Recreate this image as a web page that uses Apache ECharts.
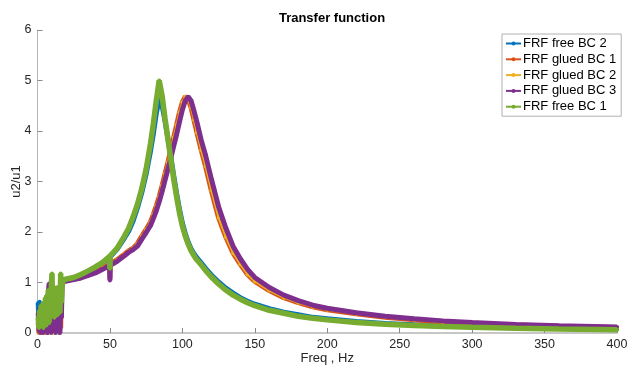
<!DOCTYPE html>
<html>
<head>
<meta charset="utf-8">
<script src="https://cdn.jsdelivr.net/npm/echarts@6/dist/echarts.min.js"></script>
<style>
  html, body { margin: 0; padding: 0; background: #fff; }
  #chart { width: 634px; height: 369px; }
</style>
</head>
<body>
<div id="chart"></div>
<script>
// low frequency part (noisy region), Hz
const lowFreq = [0.5, 1, 1.5, 2, 2.5, 3, 3.5, 4, 4.5, 5, 5.5, 6, 6.5, 7, 7.5, 8, 8.5,
  9, 9.5, 10, 10.5, 11, 11.5, 12, 12.5, 13, 13.5, 14, 14.5, 15, 15.5, 16, 16.5, 17]
// smooth part, Hz
const freq = [18, 20, 25, 30, 35, 40, 45, 49.8, 50, 50.2,
  55, 60, 63, 66, 69, 72, 75, 78, 80, 82,
  84, 86, 88, 90, 92, 94, 96, 98, 100, 102,
  104, 106, 108, 110, 113, 116, 120, 125, 130, 135,
  140, 145, 150, 160, 170, 180, 190, 200, 220, 240,
  260, 280, 300, 330, 360, 400]

const seriesNames = ['FRF free BC 2', 'FRF glued BC 1', 'FRF glued BC 2', 'FRF glued BC 3', 'FRF free BC 1']

// noisy values below 17 Hz
const freeBC2Low = [0.6, 0.1, 0.62, 0.05, 0.4, 0.0, 0.5, 0.1, 0.55, 0.02, 0.6, 0.15, 0.5, 0.05, 0.7, 0.2, 0.9,
  0.1, 0.6, 0.3, 0.75, 0.05, 0.7, 0.2, 0.8, 0.1, 0.85, 0.3, 0.7, 0.0, 0.8, 0.4, 0.9, 0.95]
const gluedBC1Low = [0.2, 0.0, 0.35, 0.05, 0.3, 0.0, 0.45, 0.1, 0.4, 0.05, 0.55, 0.0, 0.6, 0.15, 0.7, 0.05, 0.75,
  0.1, 0.7, 0.2, 0.8, 0.05, 0.75, 0.1, 0.85, 0.2, 0.8, 0.05, 0.9, 0.3, 0.85, 0.1, 0.9, 1.0]
const gluedBC2Low = [0.1, 0.4, 0.0, 0.5, 0.05, 0.45, 0.0, 0.6, 0.1, 0.5, 0.05, 0.65, 0.1, 0.7, 0.0, 0.75, 0.1,
  0.8, 0.05, 0.7, 0.15, 0.85, 0.0, 0.8, 0.1, 0.9, 0.05, 0.85, 0.2, 0.9, 0.0, 0.95, 0.5, 1.0]
const gluedBC3Low = [0.4, 0.05, 0.5, 0.0, 0.45, 0.1, 0.55, 0.0, 0.5, 0.1, 0.6, 0.05, 0.7, 0.0, 0.8, 0.98, 0.1,
  0.7, 0.0, 0.8, 0.15, 0.75, 0.05, 0.85, 0.0, 0.8, 0.2, 0.9, 0.05, 0.85, 0.0, 0.9, 0.3, 0.98]
const freeBC1Low = [0.3, 0.1, 0.45, 0.15, 0.55, 0.2, 0.5, 0.1, 0.6, 0.25, 0.7, 0.15, 0.75, 0.3, 0.85, 0.2, 0.8,
  0.35, 0.9, 1.18, 0.4, 0.85, 0.3, 0.8, 0.45, 0.9, 0.35, 0.85, 0.5, 0.9, 0.4, 1.18, 0.6, 0.95]

// smooth values, 18 Hz and up
const freeBC2 = [1.04, 1.06, 1.09, 1.15, 1.22, 1.30, 1.39, 1.50, 1.30, 1.51,
  1.66, 1.88, 2.02, 2.22, 2.48, 2.78, 3.15, 3.60, 3.95, 4.35,
  4.62, 4.50, 4.20, 3.85, 3.50, 3.12, 2.77, 2.45, 2.18, 1.97,
  1.80, 1.67, 1.57, 1.49, 1.39, 1.28, 1.15, 1.01, 0.89, 0.79,
  0.70, 0.63, 0.57, 0.48, 0.41, 0.36, 0.31, 0.28, 0.23, 0.19,
  0.165, 0.145, 0.125, 0.105, 0.09, 0.075]
const gluedBC1 = [1.03, 1.04, 1.07, 1.10, 1.15, 1.21, 1.28, 1.36, 1.08, 1.37,
  1.45, 1.56, 1.63, 1.68, 1.77, 1.92, 2.05, 2.20, 2.35, 2.52,
  2.70, 2.92, 3.15, 3.38, 3.62, 3.87, 4.12, 4.37, 4.57, 4.68,
  4.63, 4.46, 4.22, 3.97, 3.62, 3.30, 2.82, 2.28, 1.90, 1.58,
  1.36, 1.16, 1.02, 0.84, 0.70, 0.60, 0.52, 0.46, 0.38, 0.31,
  0.26, 0.22, 0.19, 0.16, 0.135, 0.11]
const gluedBC2 = [1.03, 1.04, 1.07, 1.10, 1.15, 1.21, 1.28, 1.36, 1.10, 1.37,
  1.45, 1.56, 1.63, 1.68, 1.77, 1.92, 2.05, 2.20, 2.35, 2.52,
  2.70, 2.92, 3.15, 3.38, 3.62, 3.87, 4.12, 4.37, 4.57, 4.68,
  4.63, 4.46, 4.22, 3.97, 3.62, 3.30, 2.82, 2.28, 1.90, 1.58,
  1.36, 1.16, 1.02, 0.84, 0.70, 0.60, 0.52, 0.46, 0.38, 0.31,
  0.26, 0.22, 0.19, 0.16, 0.135, 0.11]
const gluedBC3 = [1.02, 1.03, 1.06, 1.09, 1.14, 1.19, 1.26, 1.33, 1.04, 1.34,
  1.42, 1.53, 1.60, 1.65, 1.72, 1.86, 1.99, 2.13, 2.27, 2.42,
  2.60, 2.80, 3.02, 3.24, 3.46, 3.70, 3.93, 4.18, 4.42, 4.60,
  4.68, 4.60, 4.40, 4.18, 3.82, 3.52, 3.05, 2.50, 2.08, 1.72,
  1.47, 1.26, 1.10, 0.90, 0.75, 0.64, 0.55, 0.49, 0.40, 0.33,
  0.28, 0.24, 0.21, 0.17, 0.145, 0.12]
const freeBC1 = [1.05, 1.07, 1.10, 1.16, 1.23, 1.31, 1.40, 1.52, 1.27, 1.53,
  1.68, 1.92, 2.08, 2.30, 2.55, 2.86, 3.25, 3.75, 4.15, 4.60,
  5.00, 4.70, 4.25, 3.85, 3.45, 3.05, 2.70, 2.38, 2.12, 1.92,
  1.76, 1.63, 1.53, 1.45, 1.35, 1.24, 1.11, 0.97, 0.85, 0.75,
  0.67, 0.60, 0.54, 0.45, 0.39, 0.33, 0.29, 0.26, 0.21, 0.175,
  0.15, 0.13, 0.115, 0.095, 0.08, 0.065]

const xTicks = [0, 50, 100, 150, 200, 250, 300, 350, 400]
const yTicks = [0, 1, 2, 3, 4, 5, 6]

// matlab default colours
const colors = ['#0072BD', '#D95319', '#EDB120', '#7E2F8E', '#77AC30']
const widths = [5, 5, 2, 5, 5.5]

const lowSets = [freeBC2Low, gluedBC1Low, gluedBC2Low, gluedBC3Low, freeBC1Low]
const highSets = [freeBC2, gluedBC1, gluedBC2, gluedBC3, freeBC1]

function buildData(low, high) {
  const pts = []
  lowFreq.forEach((f, i) => pts.push([f, low[i]]))
  freq.forEach((f, i) => pts.push([f, high[i]]))
  return pts
}

const chart = echarts.init(document.getElementById('chart'))

const series = seriesNames.map((name, i) => ({
  name: name,
  type: 'line',
  data: buildData(lowSets[i], highSets[i]),
  symbol: 'circle',
  symbolSize: 4,
  showAllSymbol: true,
  lineStyle: { color: colors[i], width: widths[i] },
  itemStyle: { color: colors[i] },
  emphasis: { disabled: true },
  z: 2 + i
}))

const textFont = 'Liberation Sans, Arial, sans-serif'

chart.setOption({
  animation: false,
  color: colors,
  title: {
    text: 'Transfer function',
    left: 327,
    textAlign: 'center',
    top: 7,
    textStyle: { fontSize: 13, fontWeight: 'bold', color: '#000', fontFamily: textFont }
  },
  legend: {
    orient: 'vertical',
    left: 502,
    top: 34,
    padding: [3, 5, 3, 3],
    itemGap: 2.8,
    itemWidth: 15,
    itemHeight: 5,
    borderColor: '#b0b0b0',
    borderWidth: 1,
    backgroundColor: '#fff',
    textStyle: { fontSize: 13, color: '#000', fontFamily: textFont, padding: [0, 0, 0, -3] },
    data: seriesNames
  },
  grid: { left: 37.5, right: 17, top: 30, bottom: 36, outerBoundsMode: 'none', containLabel: false },
  xAxis: {
    type: 'value',
    min: xTicks[0],
    max: xTicks[xTicks.length - 1],
    interval: 50,
    name: 'Freq , Hz',
    nameLocation: 'middle',
    nameGap: 19,
    nameMoveOverlap: false,
    nameTextStyle: { fontSize: 13, color: '#262626', fontFamily: textFont },
    axisLine: { show: true, lineStyle: { color: '#b5b5b5', width: 1.5 } },
    axisTick: { show: true, inside: true, length: 5, lineStyle: { color: '#8a8a8a' } },
    axisLabel: { fontSize: 12.5, color: '#262626', margin: 5, fontFamily: textFont },
    splitLine: { show: false }
  },
  yAxis: {
    type: 'value',
    min: yTicks[0],
    max: yTicks[yTicks.length - 1],
    interval: 1,
    name: 'u2/u1',
    nameLocation: 'middle',
    nameGap: 15,
    nameMoveOverlap: false,
    nameTextStyle: { fontSize: 13, color: '#262626', fontFamily: textFont },
    axisLine: { show: true, lineStyle: { color: '#b5b5b5', width: 1 } },
    axisTick: { show: true, inside: true, length: 5, lineStyle: { color: '#8a8a8a' } },
    axisLabel: { fontSize: 12.5, color: '#262626', margin: 6, fontFamily: textFont },
    splitLine: { show: false }
  },
  series: series
})
</script>
</body>
</html>
